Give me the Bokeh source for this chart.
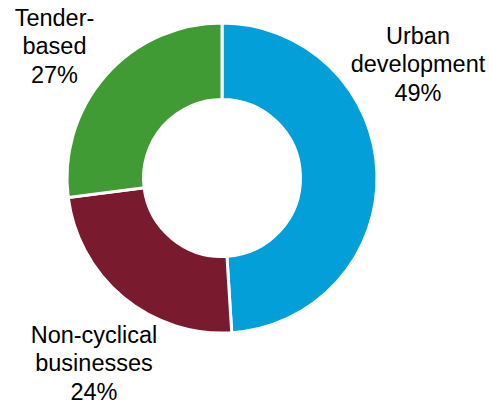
import numpy as np
from bokeh.plotting import figure
from bokeh.models import Range1d, ColumnDataSource
from bokeh.core.properties import value
from bokeh.embed import file_html
from bokeh.resources import INLINE

categories = ["Urban development", "Non-cyclical businesses", "Tender-based"]
shares = [49, 24, 27]
labels = ["Urban\ndevelopment\n49%", "Non-cyclical\nbusinesses\n24%", "Tender-\nbased\n27%"]
colors = ["#039FD9", "#7A1A2E", "#409B35"]

W, H = 489, 404
p = figure(width=W, height=H, output_backend="svg", toolbar_location=None,
           x_range=Range1d(0, W), y_range=Range1d(0, H), min_border=0)
p.axis.visible = False
p.grid.visible = False
p.outline_line_color = None
p.background_fill_color = "white"

frac = np.array(shares, dtype=float) / sum(shares)
cum = np.concatenate([[0], np.cumsum(frac)])
start = np.pi / 2 - 2 * np.pi * cum[:-1]
end = np.pi / 2 - 2 * np.pi * cum[1:]

cx, cy = 221.5, H - 177.5
src = ColumnDataSource(dict(start=start, end=end, color=colors, cat=categories))
p.annular_wedge(x=cx, y=cy, inner_radius=78.5, outer_radius=155, start_angle="start", end_angle="end",
                direction="clock", fill_color="color", line_color="white", line_width=3, source=src)

# label anchors (centre of top line), screen coords from the top-left
lx = [417.5, 93.5, 54]
ly = [22, 321, 4]
lsrc = ColumnDataSource(dict(x=lx, y=[H - v for v in ly], text=labels))
p.text(x="x", y="y", text="text", source=lsrc, text_font=value("Liberation Sans"), text_font_size="23.5px",
       text_align="center", text_baseline="top", text_color="black", text_line_height=1.1)

open("out.html", "w").write(file_html(p, INLINE))
